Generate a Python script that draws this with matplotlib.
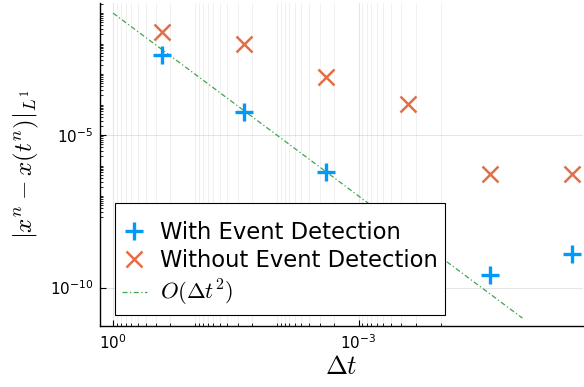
import numpy as np
import matplotlib
matplotlib.use('Agg')
import matplotlib.pyplot as plt
from matplotlib.ticker import FixedLocator, LogFormatterSciNotation, NullFormatter

# ---- data ----
dt = [0.25, 0.025, 0.0025, 0.00025, 2.5e-5, 2.5e-6]
err_event = [4.2e-3, 5.8e-5, 6.0e-7, 6.0e-9, 2.6e-10, 1.3e-9]
err_noevent = [2.4e-2, 1.0e-2, 8.1e-4, 1.05e-4, 5.1e-7, 5.1e-7]
ref_dt = np.array([1.0, 1e-5])
ref_coef = 0.1

x_major = [1e0, 1e-3]
y_major = [1e-5, 1e-10]

labels = ["With Event Detection", "Without Event Detection", r"$O(\Delta t^2)$"]

blue = '#009AFA'
orange = '#E36F47'
green = '#3EA44E'

W, H = 584, 387
fig = plt.figure(figsize=(W / 100, H / 100), dpi=100)
ax = fig.add_axes([100 / W, (H - 326) / H, 483 / W, 323 / H])
ax.set_xscale('log')
ax.set_yscale('log')

ax.plot(dt, err_event, linestyle='none', marker='+', markersize=12.5,
        markeredgewidth=2.4, color=blue, label=labels[0], zorder=3)
ax.plot(dt, err_noevent, linestyle='none', marker='x', markersize=11,
        markeredgewidth=1.8, color=orange, label=labels[1], zorder=3)
ax.plot(ref_dt, ref_coef * ref_dt ** 2, color=green, linewidth=0.9,
        dashes=(4, 2, 1, 2), label=labels[2], zorder=2)

ax.set_xlim(1.442, 1.82e-6)
ax.set_ylim(10 ** -11.26, 10 ** -0.67)

# ticks
ax.xaxis.set_major_locator(FixedLocator(x_major))
ax.yaxis.set_major_locator(FixedLocator(y_major))
ax.xaxis.set_major_formatter(LogFormatterSciNotation())
ax.yaxis.set_major_formatter(LogFormatterSciNotation())
xminor = [m * 10.0 ** (-k - 1) for k in range(0, 4) for m in range(1, 10)]
xminor = [v for v in xminor if not any(np.isclose(v, x_major))]
ax.xaxis.set_minor_locator(FixedLocator(xminor))
yminor = [m * 10.0 ** e for e in range(-12, 0) for m in range(1, 10)]
yminor = [v for v in yminor if not any(np.isclose(v, y_major, rtol=1e-6))]
ax.yaxis.set_minor_locator(FixedLocator(yminor))
ax.xaxis.set_minor_formatter(NullFormatter())
ax.yaxis.set_minor_formatter(NullFormatter())
ax.tick_params(which='both', direction='in', labelsize=11, color='black')
ax.tick_params(which='major', length=4, width=0.8, pad=5)
ax.tick_params(which='minor', length=2.5, width=0.6)

# grid
ax.grid(True, which='major', axis='both', color='black', alpha=0.1, linewidth=0.8)
ax.grid(True, which='minor', axis='x', color='black', alpha=0.07, linewidth=0.6)
ax.set_axisbelow(True)

for s in ['top', 'right']:
    ax.spines[s].set_visible(False)
for s in ['left', 'bottom']:
    ax.spines[s].set_linewidth(1.0)

ax.set_xlabel(r'$\Delta t$', fontsize=19, math_fontfamily='cm', labelpad=2)
ax.set_ylabel(r'$|x^n - x(t^n)|_{L^1}$', fontsize=18, math_fontfamily='cm', labelpad=6)

leg = ax.legend(loc='lower left', bbox_to_anchor=(115 / W, (H - 315) / H),
                bbox_transform=fig.transFigure, borderaxespad=0,
                fontsize=16.3, frameon=True, fancybox=False, framealpha=1,
                edgecolor='black', handlelength=1.1, handletextpad=0.6,
                labelspacing=0.25, borderpad=0.3, title=' ', title_fontsize=4)
leg.get_frame().set_linewidth(0.8)
leg.set_zorder(10)
leg.get_texts()[2].set_math_fontfamily('cm')

fig.savefig('out.png', dpi=100)
